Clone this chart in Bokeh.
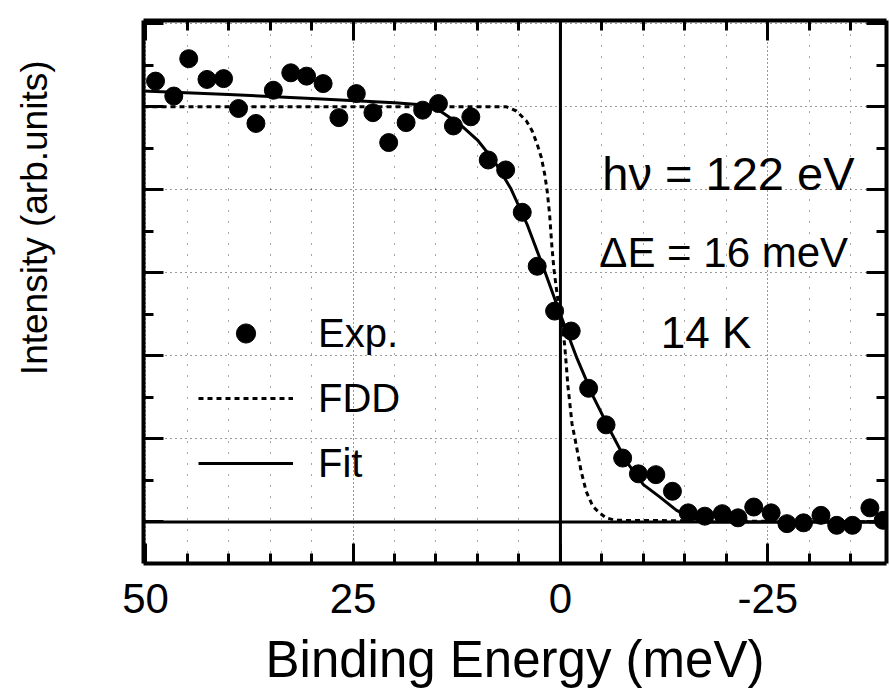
import math
from bokeh.plotting import figure
from bokeh.models import (Range1d, FixedTicker, LinearAxis, Span, Label,
                          Legend, LegendItem, Title, CustomLabelingPolicy)
from bokeh.embed import file_html
from bokeh.resources import INLINE

# ---------------- data ----------------
exp_x = [48.8, 46.6, 44.8, 42.6, 40.6, 38.8, 36.7, 34.6, 32.5, 30.6, 28.6,
         26.7, 24.6, 22.6, 20.7, 18.6, 16.6, 14.7, 12.9, 10.8, 8.7, 6.6, 4.6,
         2.8, 0.7, -1.3, -3.4, -5.5, -7.5, -9.4, -11.5, -13.5, -15.4, -17.4,
         -19.5, -21.4, -23.3, -25.4, -27.3, -29.3, -31.4, -33.3, -35.2,
         -37.3, -38.9]
exp_y = [5.31, 5.13, 5.58, 5.33, 5.34, 4.98, 4.80, 5.20, 5.41, 5.37, 5.28,
         4.87, 5.16, 4.93, 4.57, 4.81, 4.96, 5.04, 4.77, 4.88, 4.36, 4.24,
         3.73, 3.08, 2.54, 2.30, 1.61, 1.17, 0.77, 0.58, 0.57, 0.37, 0.11,
         0.07, 0.10, 0.05, 0.18, 0.11, -0.02, -0.01, 0.08, -0.04, -0.04,
         0.17, 0.02]

fdd_x = [50.25, 6.5, 5.3, 4.1, 3.4, 2.8, 2.3, 1.9, 1.6, 1.3, 1.05, 0.8, 0.5,
         0.2, -0.2, -0.5, -0.7, -0.9, -1.1, -1.4, -1.8, -2.1, -2.5, -3.1,
         -3.9, -4.7, -5.5, -6.7, -39.3]
fdd_y = [5.0, 5.0, 4.95, 4.83, 4.71, 4.55, 4.39, 4.19, 3.99, 3.70, 3.35,
         3.06, 2.82, 2.60, 2.40, 2.14, 1.90, 1.64, 1.46, 1.18, 0.98, 0.82,
         0.61, 0.37, 0.19, 0.11, 0.05, 0.02, 0.0]

fit_x = [50.25, 40, 30, 20, 16, 14.5, 12, 10, 8, 6, 4, 2, 0, -2, -4, -6, -8,
         -10, -12, -14, -16, -18, -39.3]
fit_y = [5.19, 5.15, 5.10, 5.05, 5.02, 4.95, 4.78, 4.60, 4.35, 4.02, 3.58,
         3.05, 2.50, 1.97, 1.50, 1.10, 0.72, 0.45, 0.30, 0.14, 0.04, 0.0, 0.0]

x_major = [50, 25, 0, -25]
x_minor = [45, 40, 35, 30, 20, 15, 10, 5, -5, -10, -15, -20, -30, -35]
x_labels = {50: "50", 25: "25", 0: "0", -25: "-25"}
y_major = [0, 1, 2, 3, 4, 5, 6]
y_minor = [0.5, 1.5, 2.5, 3.5, 4.5, 5.5]

legend_labels = ["Exp.", "FDD", "Fit"]
x_title = "Binding Energy (meV)"
y_title = "Intensity (arb.units)"
notes = ["hν = 122 eV", "ΔE = 16 meV", "14 K"]

FONT = "Liberation Sans"

# ---------------- figure ----------------
p = figure(width=890, height=693,
           x_range=Range1d(50.25, -39.3), y_range=Range1d(-0.5, 6.04),
           output_backend="svg", toolbar_location=None,
           min_border_left=143, min_border_right=2,
           min_border_top=20, min_border_bottom=130)
p.background_fill_color = "white"
p.border_fill_color = "white"
p.outline_line_color = None


def style_axis(ax, ticker, show_labels, standoff=0):
    ax.ticker = ticker
    ax.axis_line_width = 4
    ax.axis_line_color = "black"
    ax.major_tick_in = 20
    ax.major_tick_out = 0
    ax.minor_tick_in = 10
    ax.minor_tick_out = 0
    ax.major_tick_line_width = 3
    ax.minor_tick_line_width = 3
    ax.major_tick_line_color = "black"
    ax.minor_tick_line_color = "black"
    if not show_labels:
        # tick marks only: no tick label is drawn on this side
        ax.major_label_policy = CustomLabelingPolicy(code="return []")
        ax.major_label_text_font_size = "1px"
        ax.major_label_standoff = standoff


xticker = FixedTicker(ticks=x_major, minor_ticks=x_minor)
yticker = FixedTicker(ticks=y_major, minor_ticks=y_minor)

xb = p.xaxis[0]
style_axis(xb, xticker, True)
xb.major_label_overrides = x_labels
xb.major_label_text_font = FONT
xb.major_label_text_font_size = "42px"
xb.major_label_text_color = "black"
xb.major_label_standoff = 20
xb.axis_label = x_title
xb.axis_label_text_font = FONT
xb.axis_label_text_font_size = "51px"
xb.axis_label_text_font_style = "normal"
xb.axis_label_text_color = "black"
xb.axis_label_standoff = 15

yl = p.yaxis[0]
style_axis(yl, yticker, False, standoff=75)

xt = LinearAxis()
style_axis(xt, xticker, False)
p.add_layout(xt, "above")
yr = LinearAxis()
style_axis(yr, yticker, False)
p.add_layout(yr, "right")

# y title as a side title, so that it can sit above the centre
p.add_layout(Title(text=y_title, text_font=FONT, text_font_size="37px",
                   text_font_style="normal", text_color="black",
                   align="right", offset=40, standoff=19), "left")

# grid: sparse dotted lines
p.xgrid.ticker = xticker
p.xgrid.grid_line_color = "black"
p.xgrid.grid_line_dash = "1 3"
p.xgrid.grid_line_alpha = 0.8
p.xgrid.minor_grid_line_color = "black"
p.xgrid.minor_grid_line_dash = "1 10"
p.xgrid.minor_grid_line_alpha = 0.7
p.ygrid.ticker = yticker
p.ygrid.grid_line_color = "black"
p.ygrid.grid_line_dash = "1 4"
p.ygrid.grid_line_alpha = 0.8

# reference lines
p.add_layout(Span(location=0, dimension="height", line_width=3, line_color="black"))
p.add_layout(Span(location=0, dimension="width", line_width=3, line_color="black"))

# data
r_fdd = p.line(fdd_x, fdd_y, line_color="black", line_width=3, line_dash="5 4")
r_fit = p.line(fit_x, fit_y, line_color="black", line_width=3)
r_exp = p.scatter(exp_x, exp_y, size=18, color="black")

legend = Legend(items=[LegendItem(label=legend_labels[0], renderers=[r_exp]),
                       LegendItem(label=legend_labels[1], renderers=[r_fdd]),
                       LegendItem(label=legend_labels[2], renderers=[r_fit])],
                location=(55, 76))
legend.label_text_font = FONT
legend.label_text_font_size = "40px"
legend.label_text_color = "black"
legend.glyph_width = 95
legend.glyph_height = 48
legend.label_height = 48
legend.spacing = 17
legend.label_standoff = 25
legend.padding = 10
legend.margin = 0
legend.background_fill_alpha = 0
legend.border_line_color = None
p.add_layout(legend)

# annotations
p.add_layout(Label(x=-5.05, y=4.20, text=notes[0], text_font=FONT,
                   text_font_size="47px", text_color="black",
                   text_baseline="alphabetic", text_align="left"))
p.add_layout(Label(x=-4.69, y=3.25, text=notes[1], text_font=FONT,
                   text_font_size="42px", text_color="black",
                   text_baseline="alphabetic", text_align="left"))
p.add_layout(Label(x=-12.1, y=2.28, text=notes[2], text_font=FONT,
                   text_font_size="44px", text_color="black",
                   text_baseline="alphabetic", text_align="left"))

open("out.html", "w").write(file_html(p, INLINE))
